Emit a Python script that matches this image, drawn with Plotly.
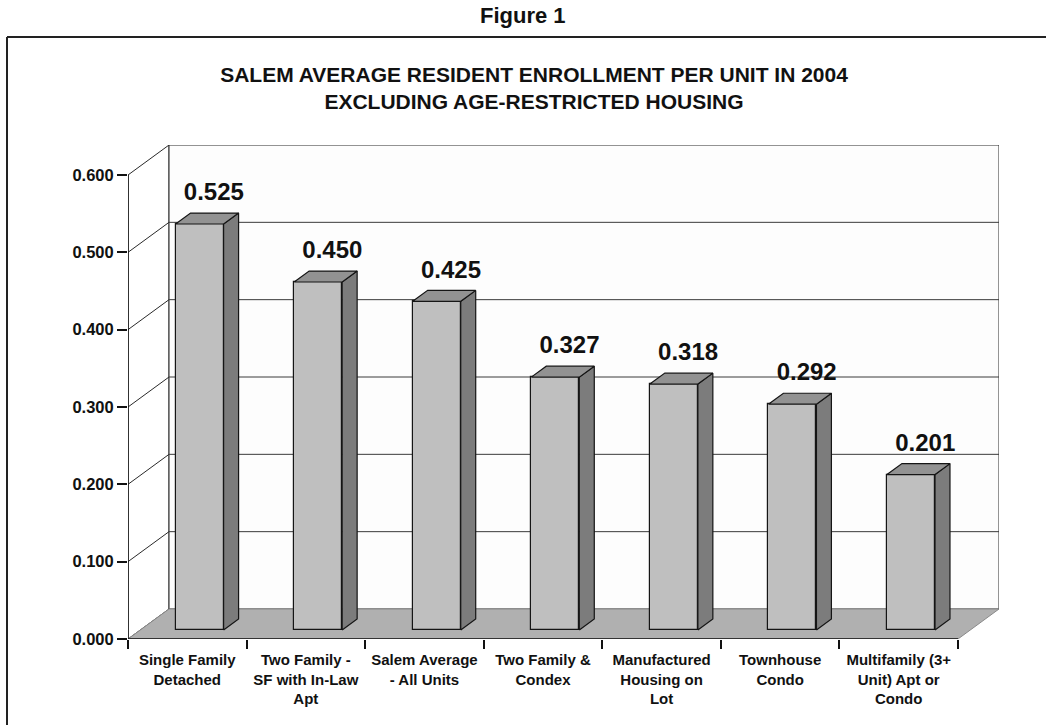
import plotly.graph_objects as go

# ---- data -------------------------------------------------------------
categories = [
    "Single Family<br>Detached",
    "Two Family -<br>SF with In-Law<br>Apt",
    "Salem Average<br>- All Units",
    "Two Family &<br>Condex",
    "Manufactured<br>Housing on<br>Lot",
    "Townhouse<br>Condo",
    "Multifamily (3+<br>Unit) Apt or<br>Condo",
]
enrollment = [0.525, 0.450, 0.425, 0.327, 0.318, 0.292, 0.201]
y_ticks = [0.0, 0.1, 0.2, 0.3, 0.4, 0.5, 0.6]
y_tick_labels = ["0.000", "0.100", "0.200", "0.300", "0.400", "0.500", "0.600"]

# ---- 3-D projection settings (axis units) ------------------------------
DEPTH_X = 0.346      # horizontal shift from front to back of the floor
DEPTH_Y = 0.0388     # vertical shift from front to back of the floor
BAR_W = 0.405        # width of a bar's front face
BAR_FRONT = 0.30     # depth fraction where the bar's front face sits
BAR_BACK = 0.665     # depth fraction where the bar's back face sits

FONT = "Liberation Sans, Arial, sans-serif"
LINE = "#2a2a2a"
FRONT_FILL = "#bfbfbf"
TOP_FILL = "#929292"
SIDE_FILL = "#7c7c7c"
FLOOR_FILL = "#b0b0b0"

n = len(categories)
top = y_ticks[-1]
x_max = n + DEPTH_X
y_max = top + DEPTH_Y


def path(points):
    return "M " + " L ".join(f"{x},{y}" for x, y in points) + " Z"


shapes = []
# left side wall
shapes.append(dict(type="path", xref="x", yref="y", layer="below",
                   path=path([(0, 0), (0, top), (DEPTH_X, top + DEPTH_Y), (DEPTH_X, DEPTH_Y)]),
                   fillcolor="white", line=dict(color=LINE, width=1)))
# back wall
shapes.append(dict(type="path", xref="x", yref="y", layer="below",
                   path=path([(DEPTH_X, DEPTH_Y), (DEPTH_X, top + DEPTH_Y),
                              (n + DEPTH_X, top + DEPTH_Y), (n + DEPTH_X, DEPTH_Y)]),
                   fillcolor="#fdfdfd", line=dict(color=LINE, width=1)))
# gridlines on the side wall and the back wall
for t in y_ticks[1:-1]:
    shapes.append(dict(type="line", xref="x", yref="y", layer="below",
                       x0=0, y0=t, x1=DEPTH_X, y1=t + DEPTH_Y,
                       line=dict(color=LINE, width=1)))
    shapes.append(dict(type="line", xref="x", yref="y", layer="below",
                       x0=DEPTH_X, y0=t + DEPTH_Y, x1=n + DEPTH_X, y1=t + DEPTH_Y,
                       line=dict(color="#3a3a3a", width=1)))
# floor
shapes.append(dict(type="path", xref="x", yref="y", layer="below",
                   path=path([(0, 0), (n, 0), (n + DEPTH_X, DEPTH_Y), (DEPTH_X, DEPTH_Y)]),
                   fillcolor=FLOOR_FILL, line=dict(color="#8a8a8a", width=1)))
# front value axis and category axis lines
shapes.append(dict(type="line", xref="x", yref="y", layer="below",
                   x0=0, y0=0, x1=0, y1=top, line=dict(color="#111", width=1.5)))
shapes.append(dict(type="line", xref="x", yref="y", layer="below",
                   x0=0, y0=0, x1=n, y1=0, line=dict(color="#111", width=1.5)))

# page frame (paper coordinates relative to the plot area)
L, T, W, H = 128, 145, 871, 494
def px(x):
    return (x - L) / W
def py(y):
    return (T + H - y) / H

shapes.append(dict(type="line", xref="paper", yref="paper",
                   x0=px(7), y0=py(37), x1=px(1046), y1=py(37),
                   line=dict(color="#222", width=2)))
shapes.append(dict(type="line", xref="paper", yref="paper",
                   x0=px(7), y0=py(37), x1=px(7), y1=py(725),
                   line=dict(color="#222", width=2)))

# ---- bars -----------------------------------------------------------------
base = BAR_FRONT * DEPTH_Y
d = BAR_BACK - BAR_FRONT
centers = [i + 0.5 + BAR_FRONT * DEPTH_X for i in range(n)]

fig = go.Figure()
fig.add_trace(go.Bar(
    x=centers, y=enrollment, base=base, width=BAR_W,
    marker=dict(color=FRONT_FILL, line=dict(color="#151515", width=1.2)),
    hoverinfo="skip", showlegend=False,
))

top_x, top_y, side_x, side_y = [], [], [], []
for c, v in zip(centers, enrollment):
    xl, xr = c - BAR_W / 2, c + BAR_W / 2
    h = v + base
    top_x += [xl, xr, xr + d * DEPTH_X, xl + d * DEPTH_X, xl, None]
    top_y += [h, h, h + d * DEPTH_Y, h + d * DEPTH_Y, h, None]
    side_x += [xr, xr, xr + d * DEPTH_X, xr + d * DEPTH_X, xr, None]
    side_y += [base, h, h + d * DEPTH_Y, base + d * DEPTH_Y, base, None]

fig.add_trace(go.Scatter(x=side_x, y=side_y, mode="lines", fill="toself",
                         fillcolor=SIDE_FILL, line=dict(color="#151515", width=1.2),
                         hoverinfo="skip", showlegend=False))
fig.add_trace(go.Scatter(x=top_x, y=top_y, mode="lines", fill="toself",
                         fillcolor=TOP_FILL, line=dict(color="#151515", width=1.2),
                         hoverinfo="skip", showlegend=False))

# value labels above each bar
fig.add_trace(go.Scatter(
    x=[c + 0.12 for c in centers],
    y=[v + base + 0.0385 for v in enrollment],
    text=[f"{v:.3f}" for v in enrollment],
    mode="text", textposition="middle center",
    textfont=dict(family=FONT, size=24, color="#111", weight="bold"),
    hoverinfo="skip", showlegend=False,
))

fig.update_layout(
    width=1046, height=725, autosize=False,
    margin=dict(l=L, r=1046 - L - W, t=T, b=725 - T - H),
    paper_bgcolor="white", plot_bgcolor="white",
    shapes=shapes,
    title=dict(
        text="SALEM AVERAGE RESIDENT ENROLLMENT PER UNIT IN 2004<br>EXCLUDING AGE-RESTRICTED HOUSING",
        x=534 / 1046, xanchor="center", y=1 - 82 / 725, yanchor="middle",
        yref="container",
        font=dict(family=FONT, size=21, color="#111", weight="bold"),
    ),
    annotations=[dict(
        text="Figure 1", xref="paper", yref="paper",
        x=px(523), y=py(16), xanchor="center", yanchor="middle",
        showarrow=False,
        font=dict(family=FONT, size=22, color="#111", weight="bold"),
    )],
    xaxis=dict(
        range=[0, x_max], showgrid=False, zeroline=False, showline=False,
        tickmode="array", tickvals=[i + 0.5 for i in range(n)], ticktext=categories,
        ticks="", ticklabelstandoff=10,
        tickfont=dict(family=FONT, size=15, color="#111", weight="bold"),
        minor=dict(tickmode="linear", tick0=0, dtick=1, ticks="outside",
                   ticklen=9, tickcolor="#111", tickwidth=1.5, showgrid=False),
        fixedrange=True,
    ),
    yaxis=dict(
        range=[0, y_max], showgrid=False, zeroline=False, showline=False,
        tickmode="array", tickvals=y_ticks, ticktext=y_tick_labels,
        ticks="outside", ticklen=10, tickcolor="#111", tickwidth=1.5,
        tickfont=dict(family=FONT, size=16.5, color="#111", weight="bold"),
        fixedrange=True,
    ),
    bargap=0,
)

fig.write_html("out.html")
